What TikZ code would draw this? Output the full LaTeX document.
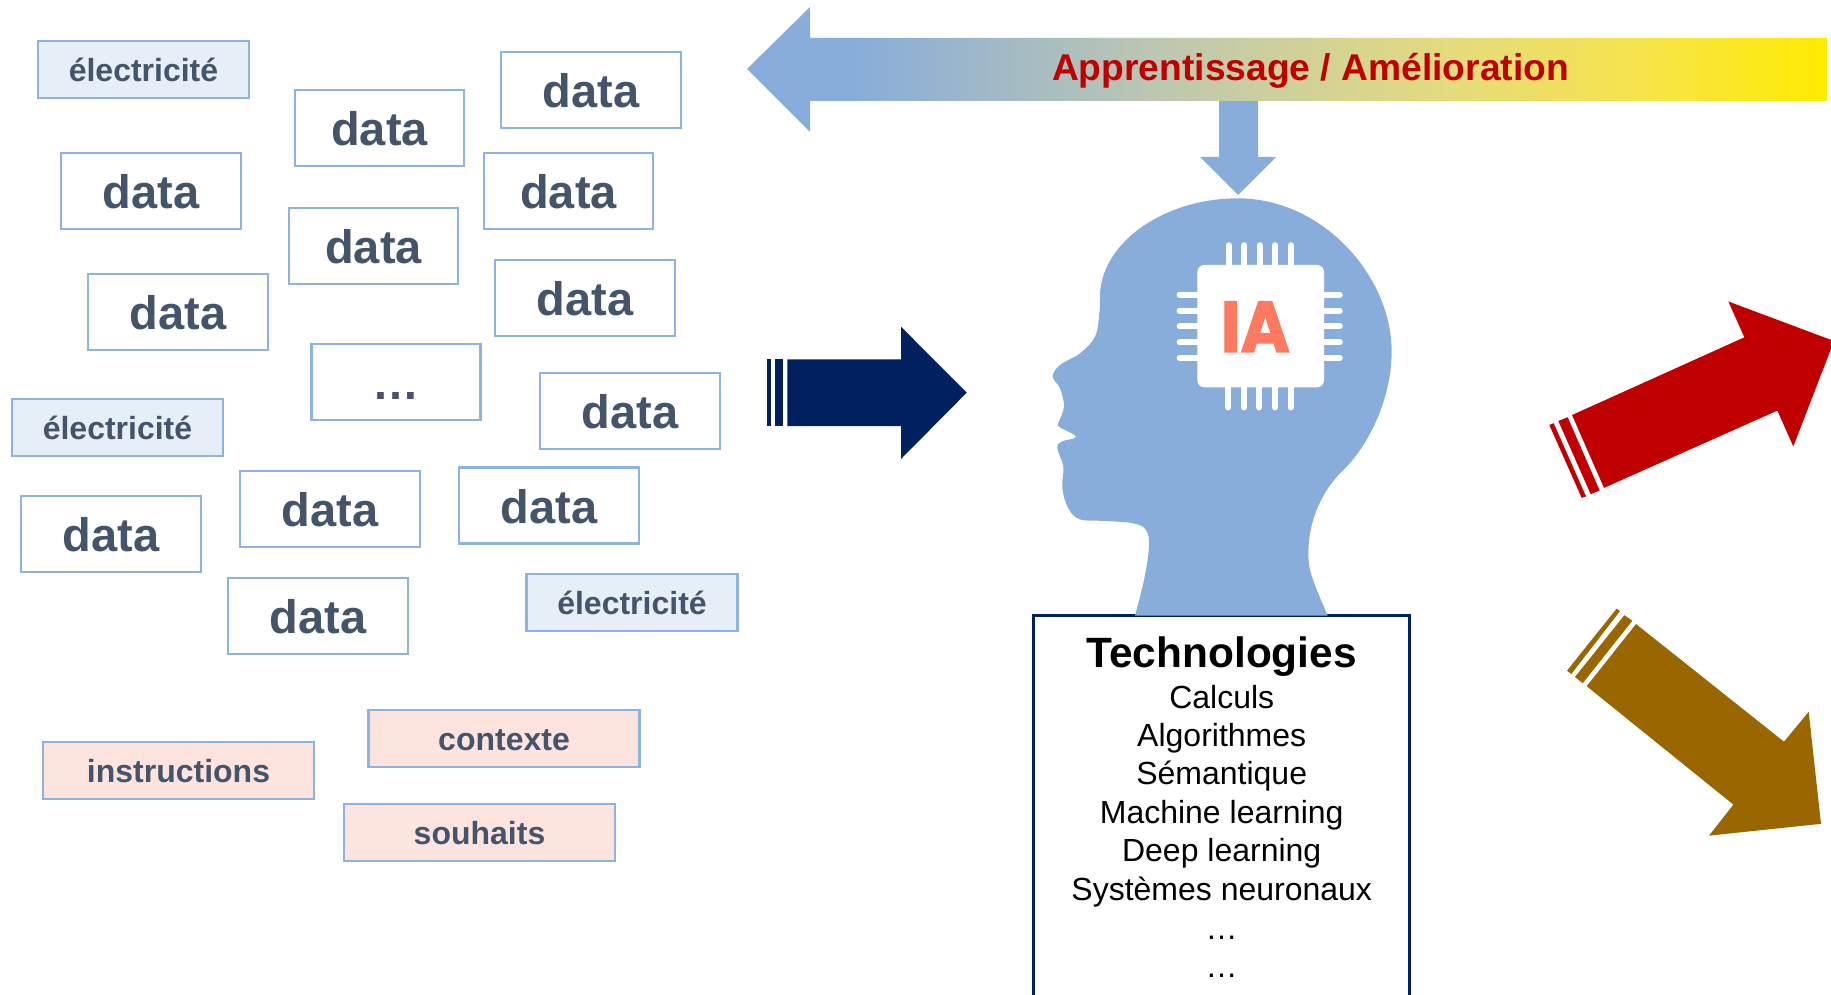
\documentclass[tikz,border=0pt]{standalone}
\usepackage{fontspec}
\setmainfont{Liberation Sans}
\newfontfamily\iafont[FakeBold=1.6]{Poppins Bold}
\definecolor{boxline}{HTML}{8DB3E2}
\definecolor{txt}{HTML}{44546A}
\definecolor{elecfill}{HTML}{E6EEF8}
\definecolor{pinkfill}{HTML}{FDE4DF}
\definecolor{headblue}{HTML}{89ADDA}
\definecolor{navy}{HTML}{002060}
\definecolor{redarrow}{HTML}{C00000}
\definecolor{brownarrow}{HTML}{996600}
\definecolor{salmon}{HTML}{FB7A60}
\definecolor{gradb}{HTML}{BEC8B0}
\definecolor{gradc}{HTML}{E3DA80}
\definecolor{gradd}{HTML}{F7E44A}
\definecolor{grade}{HTML}{FFEB00}
\pgfdeclarehorizontalshading{bandshade}{100bp}{
  color(0bp)=(headblue); color(30bp)=(headblue);
  color(44.5bp)=(gradb); color(57bp)=(gradc);
  color(66.5bp)=(gradd); color(75bp)=(grade); color(100bp)=(grade)}
\tikzset{
  basebox/.style={draw=boxline,line width=2.6pt,inner sep=0pt,outer sep=0pt,text=txt,font=\bfseries,text depth=0pt},
  databox/.style={basebox,fill=white,minimum width=180pt,minimum height=76pt,font=\fontsize{47}{50}\selectfont\bfseries,text height=35pt},
  narrow/.style={minimum width=169pt},
  elecbox/.style={basebox,fill=elecfill,minimum width=211pt,minimum height=57pt,font=\fontsize{32}{36}\selectfont\bfseries,text height=24pt},
  pinkbox/.style={basebox,fill=pinkfill,minimum width=271pt,minimum height=57pt,font=\fontsize{32}{36}\selectfont\bfseries,text height=24pt},
  pin/.style={white,line width=6.3pt,line cap=round},
  techline/.style={anchor=base,font=\fontsize{32}{38.4}\selectfont},
}
\begin{document}
\begin{tikzpicture}[x=1pt,y=-1pt]
\useasboundingbox (0,0) rectangle (1831,995);
\clip (0,0) rectangle (1831,995);
% data boxes
\node[elecbox] (e1) at (143.5,69.5) {électricité};
\node[databox] (da) at (151,191) {data};
\node[databox,narrow] (db) at (379.5,128) {data};
\node[databox,narrow] (dc) at (373.5,246) {data};
\node[databox] (dd) at (178,312) {data};
\node[databox,narrow] (dots) at (396,382) {…};
\node[elecbox] (e2) at (117.5,427.5) {électricité};
\node[databox] (de) at (591,90) {data};
\node[databox,narrow] (df) at (568.5,191) {data};
\node[databox] (dg) at (585,298) {data};
\node[databox] (dh) at (630,411) {data};
\node[databox] (di) at (111,534) {data};
\node[databox] (dj) at (330,509) {data};
\node[databox] (dk) at (318,616) {data};
\node[databox] (dl) at (549,505.5) {data};
\node[elecbox] (e3) at (632,602.5) {électricité};
\node[pinkbox] (instr) at (178.5,770.5) {instructions};
\node[pinkbox] (ctx) at (504,738.5) {contexte};
\node[pinkbox] (souh) at (479.5,832.5) {souhaits};
% top band arrow
\fill[headblue] (1219,95) -- (1258,95) -- (1258,157) -- (1276,157) -- (1238,195) -- (1200,157) -- (1219,157) -- cycle;
\shade[shading=bandshade] (747,69) -- (810,7) -- (810,38) -- (1827,38) -- (1827,101) -- (810,101) -- (810,132) -- cycle;
\node[text=redarrow,font=\fontsize{37.2}{40}\selectfont\bfseries,anchor=base] (band) at (1310.5,80.5) {Apprentissage / Amélioration};
% navy arrow
\fill[navy] (766.7,359.3) rectangle (770.7,426);
\fill[navy] (775,359.3) rectangle (783.3,426);
\fill[navy] (787.3,359.3) -- (901,359.3) -- (901,326.7) -- (966.7,392.7) -- (901,459) -- (901,426) -- (787.3,426) -- cycle;
% red and brown arrows
\begin{scope}[shift={(1500,280)},x=.33333pt,y=-.36995pt]
\fill[redarrow] (216,365) -- (733,155) -- (685,58) -- (1002,165) -- (880,450) -- (832,353) -- (312,562) -- cycle;
\fill[redarrow] (175,381) -- (203,371) -- (299,569) -- (272,579) -- cycle;
\fill[redarrow] (148,392) -- (161,387) -- (258,585) -- (245,589) -- cycle;
\fill[brownarrow] (408,930) -- (852,1248) -- (926,1167) -- (963,1470) -- (627,1502) -- (700,1418) -- (260,1098) -- cycle;
\fill[brownarrow] (373,906) -- (397,921) -- (248,1090) -- (225,1073) -- cycle;
\fill[brownarrow] (350,888) -- (360,895) -- (214,1065) -- (201,1056) -- cycle;
\end{scope}
% technologies box
\node[draw=navy,line width=2.5pt,fill=white,minimum width=376pt,minimum height=420pt,anchor=north west,inner sep=0pt,outer sep=0pt] (tech) at (1033.5,615.5) {};
\node[anchor=base,font=\fontsize{42.4}{44}\selectfont\bfseries] (techt) at (1221.7,667.5) {Technologies};
\node[techline] (t1) at (1221.7,708.5) {Calculs};
\node[techline] (t2) at (1221.7,746.5) {Algorithmes};
\node[techline] (t3) at (1221.7,784.5) {Sémantique};
\node[techline] (t4) at (1221.7,823.5) {Machine learning};
\node[techline] (t5) at (1221.7,861.5) {Deep learning};
\node[techline] (t6) at (1221.7,900.2) {Systèmes neuronaux};
\node[techline] (t7) at (1221.7,939) {…};
\node[techline] (t8) at (1221.7,977) {…};
% head
\begin{scope}[shift={(1000,180)},x=.33333pt,y=-.33333pt]
\fill[headblue] (983,1307) -- (405,1307) -- plot[smooth,tension=.6] coordinates {(405,1307) (432,1200) (447,1100) (438,1050) (400,1030) (320,1023) (240,1018) (205,985) (187,925) (190,860) (172,805) (185,785) (228,770) (180,742) (175,730) (192,680) (180,625) (158,590) (180,555) (240,520) (285,470) (298,400) (300,340)}
 .. controls (310,180) and (500,55) .. (713,55) .. controls (970,55) and (1175,290) .. (1175,515) .. controls (1175,650) and (1110,790) .. (1035,865) .. controls (960,935) and (925,1030) .. (925,1120) .. controls (925,1170) and (935,1195) .. (983,1307) -- cycle;
% chip
\fill[white,rounded corners=7pt] (592,255) rectangle (972,622);
\foreach \px in {686,733,779,826,873} \draw[pin] (\px,270) -- (\px,196);
\foreach \px in {685,732,778,825,872} \draw[pin] (\px,610) -- (\px,682);
\foreach \py in {344,392,439,487,534} {\draw[pin] (600,\py) -- (539,\py); \draw[pin] (965,\py) -- (1019,\py);}
\node[text=salmon,font=\fontsize{72}{72}\selectfont\iafont,anchor=base,inner sep=0pt] (ia) at (766,516) {\scalebox{.93}[1]{IA}};
\end{scope}
\end{tikzpicture}
\end{document}
